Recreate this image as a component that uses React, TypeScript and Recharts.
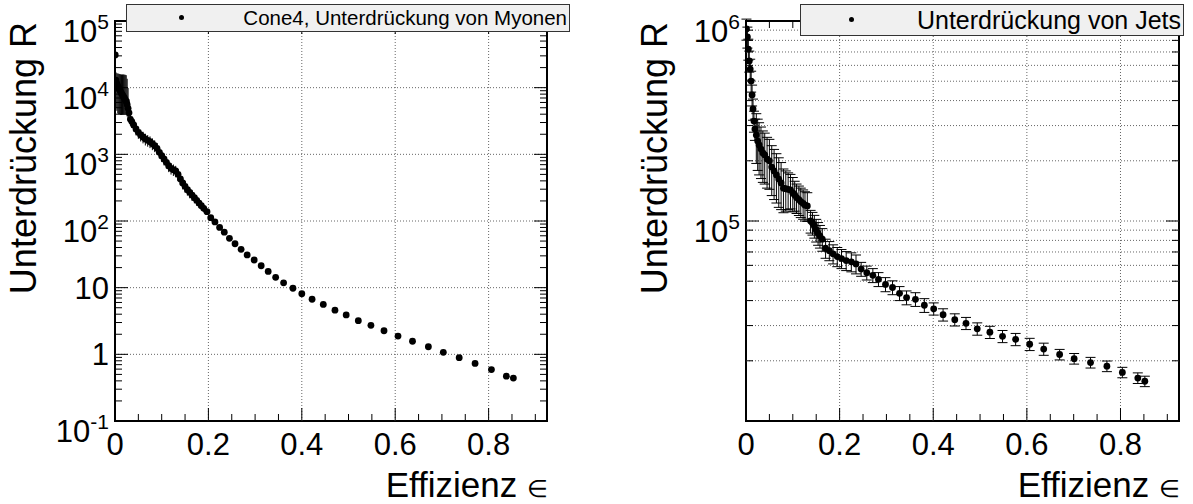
import React from "react"
import {
  ScatterChart, Scatter, XAxis, YAxis, ErrorBar,
  ReferenceLine, ReferenceArea,
} from "recharts"

const FONT = '"Liberation Sans", Arial, Helvetica, sans-serif'

// Cone4, Unterdrückung von Myonen
const muonEff = [
  0.0005, 0.002, 0.004, 0.006, 0.008, 0.010, 0.012, 0.014, 0.016, 0.018, 0.020, 0.022, 0.024, 0.026, 0.028, 0.030,
  0.033, 0.036, 0.040, 0.045, 0.050, 0.055, 0.060, 0.065, 0.070, 0.075, 0.080, 0.085, 0.090, 0.095, 0.100,
  0.105, 0.110, 0.115, 0.120, 0.125, 0.130, 0.135, 0.140, 0.145, 0.150, 0.155, 0.160, 0.165, 0.170, 0.175,
  0.180, 0.185, 0.190,
  0.197, 0.205, 0.214, 0.224, 0.234, 0.245, 0.257, 0.270, 0.283, 0.298, 0.313, 0.328, 0.344, 0.361, 0.381,
  0.400, 0.422, 0.446, 0.471, 0.495, 0.521, 0.548, 0.576, 0.606, 0.637, 0.671, 0.703, 0.737, 0.771, 0.806,
  0.838, 0.853,
]
const muonRej = [
  31000, 13000, 11500, 10500, 9800, 9200, 8700, 8200, 7800, 7400, 7000, 6600, 6200, 5600, 4900, 4200,
  3350, 3100, 2754, 2399, 2138, 1950, 1820, 1698, 1622, 1549, 1445, 1349, 1230, 1072, 955,
  851, 759, 676, 617, 589, 562, 501, 427, 372, 331, 295, 269, 245, 224, 204,
  186, 170, 155,
  138, 112, 97, 80, 68, 55, 45.6, 37.6, 31, 26, 21.3, 17.5, 14.3, 11.8, 9.8,
  8.1, 6.7, 5.6, 4.6, 3.9, 3.2, 2.72, 2.26, 1.88, 1.57, 1.3, 1.07, 0.89, 0.73, 0.59,
  0.47, 0.44,
]
const muonErrLo = [
  6000, 8000, 7000, 6400, 5800, 5200, 4800, 4300, 3900, 3500, 3100, 2700, 2300, 1900, 1500, 1000,
  670, 620, 550, 480, 430, 390, 360, 340, 320, 310, 290, 270, 250, 210, 190,
  170, 150, 135, 120, 115, 110, 100, 85, 75, 65, 55, 50, 45, 40, 35,
  30, 25, 20,
  4, 3.4, 2.9, 2.4, 2, 1.6, 1.3, 1.1, 0.9, 0.75, 0.6, 0.5, 0.4, 0.33, 0.28,
  0.23, 0.19, 0.16, 0.13, 0.11, 0.09, 0.08, 0.065, 0.055, 0.045, 0.038, 0.031, 0.026, 0.021, 0.017,
  0.014, 0.013,
]
const muonErrHi = [
  6000, 4000, 5000, 5800, 6400, 6800, 7200, 7600, 8000, 8400, 8700, 9000, 9200, 8000, 5000, 2500,
  670, 620, 550, 480, 430, 390, 360, 340, 320, 310, 290, 270, 250, 210, 190,
  170, 150, 135, 120, 115, 110, 100, 85, 75, 65, 55, 50, 45, 40, 35,
  30, 25, 20,
  4, 3.4, 2.9, 2.4, 2, 1.6, 1.3, 1.1, 0.9, 0.75, 0.6, 0.5, 0.4, 0.33, 0.28,
  0.23, 0.19, 0.16, 0.13, 0.11, 0.09, 0.08, 0.065, 0.055, 0.045, 0.038, 0.031, 0.026, 0.021, 0.017,
  0.014, 0.013,
]

// Unterdrückung von Jets
const jetEff = [
  0.001, 0.003, 0.005, 0.007, 0.009, 0.011, 0.013, 0.015, 0.017, 0.019,
  0.022, 0.025, 0.028, 0.032, 0.036, 0.040,
  0.045, 0.050, 0.055, 0.060, 0.065, 0.070, 0.075, 0.080, 0.085, 0.090, 0.095, 0.100,
  0.104, 0.108, 0.113, 0.117, 0.122, 0.126, 0.131,
  0.138, 0.142, 0.146, 0.150, 0.154, 0.158, 0.163,
  0.170, 0.178, 0.186, 0.195, 0.204, 0.214, 0.225, 0.235,
  0.246, 0.258, 0.271, 0.283, 0.298, 0.313, 0.328, 0.343, 0.362, 0.381,
  0.401, 0.421, 0.446, 0.470, 0.494, 0.521, 0.548, 0.576, 0.606, 0.636,
  0.670, 0.701, 0.736, 0.771, 0.804, 0.837, 0.852,
]
const jetRej = [
  912000, 832000, 724000, 631000, 575000, 501000, 427000, 363000, 316000, 288000,
  269000, 251000, 240000, 229000, 219000, 214000,
  204000, 200000, 186000, 178000, 170000, 162000, 155000, 146000, 145000, 144000, 143000, 138000,
  135000, 131000, 128000, 125000, 122500, 120000, 119000,
  100000, 97700, 94400, 90200, 86900, 84100, 81100,
  73100, 71100, 68500, 66400, 64900, 63400, 62500, 61000,
  57500, 55100, 53500, 51100, 48200, 46500, 43500, 41400, 40600, 37900,
  36400, 34000, 32100, 30800, 28900, 27800, 26500, 25600, 24200, 22900,
  21500, 20500, 19600, 18800, 17500, 16400, 15800,
]
const jetErr = [
  110000, 100000, 87000, 76000, 69000, 60000, 51000, 44000, 38000, 35000,
  75000, 72000, 70000, 66000, 63000, 61000,
  58000, 56000, 52000, 50000, 47000, 45000, 41000, 36000, 33000, 30000, 28000, 27000,
  23000, 22000, 21500, 21000, 20500, 20000, 19500,
  13000, 12700, 12300, 11700, 11300, 10900, 10500,
  8000, 7800, 7500, 7300, 7100, 6900, 6800, 6600,
  4600, 4400, 4300, 4100, 3900, 3700, 3500, 3300, 3200, 3000,
  2550, 2400, 2250, 2150, 2050, 1950, 1850, 1800, 1700, 1600,
  1300, 1250, 1200, 1150, 1050, 1000, 950,
]

const effTicks = [0, 0.05, 0.1, 0.15, 0.2, 0.25, 0.3, 0.35, 0.4, 0.45, 0.5, 0.55, 0.6, 0.65, 0.7, 0.75, 0.8, 0.85, 0.9]
const effLabels = [0, 0.2, 0.4, 0.6, 0.8]
const effGrid = [0.2, 0.4, 0.6, 0.8]
const EFF_MAX = 0.925

const muonDecades = [0.1, 1, 10, 100, 1000, 10000, 100000]
const jetDecades = [10000, 100000, 1000000]

function logTicks(decades: number[]) {
  const out: number[] = []
  decades.forEach((d, i) => {
    out.push(d)
    if (i < decades.length - 1) {
      for (let m = 2; m <= 9; m++) out.push(Number((m * d).toPrecision(6)))
    }
  })
  return out
}
const muonTicks = logTicks(muonDecades)
const jetTicks = logTicks(jetDecades)
const jetGrid = jetTicks.filter((v) => v > 10000 && v < 1000000)

const muonData = muonEff.map((x, i) => ({ x, y: muonRej[i], err: [muonErrLo[i], muonErrHi[i]] }))
const jetData = jetEff.map((x, i) => ({ x, y: jetRej[i], err: [jetErr[i], jetErr[i]] }))

const isMajor = (v: number, majors: number[]) => majors.some((m) => Math.abs(m - v) < 1e-9 * Math.max(1, m))

function EffTick(props: any) {
  const { x, y, payload, plotH } = props
  const v = payload.value
  const major = isMajor(v, effLabels)
  const len = major ? 13 : 7
  return (
    <g>
      <line x1={x} y1={y} x2={x} y2={y - len} stroke="#000" strokeWidth={1} />
      <line x1={x} y1={y - plotH} x2={x} y2={y - plotH + len} stroke="#000" strokeWidth={1} />
      {major && (
        <text x={x} y={y + 34} textAnchor="middle" fontSize={31} fontFamily={FONT} fill="#000">
          {String(v)}
        </text>
      )}
    </g>
  )
}

function RejTick(props: any) {
  const { x, y, payload, plotW, majors, labelled } = props
  const v = payload.value
  const major = isMajor(v, majors)
  const len = major ? 13 : 7
  const k = Math.round(Math.log10(v))
  let label: React.ReactNode = null
  if (major && labelled.includes(v)) {
    if (k === 0 || k === 1) {
      label = (
        <text x={x - 6} y={y + 11} textAnchor="end" fontSize={31} fontFamily={FONT} fill="#000">
          {k === 0 ? "1" : "10"}
        </text>
      )
    } else {
      label = (
        <text x={x - 6} y={y + 21} textAnchor="end" fontSize={31} fontFamily={FONT} fill="#000">
          10<tspan dy={-13} fontSize={21}>{String(k)}</tspan>
        </text>
      )
    }
  }
  return (
    <g>
      <line x1={x} y1={y} x2={x + len} y2={y} stroke="#000" strokeWidth={1} />
      <line x1={x + plotW} y1={y} x2={x + plotW - len} y2={y} stroke="#000" strokeWidth={1} />
      {label}
    </g>
  )
}

function YTitle(props: any) {
  const { viewBox, dx } = props
  const tx = viewBox.x + dx
  const ty = viewBox.y + 1
  return (
    <text x={tx} y={ty} transform={`rotate(-90, ${tx}, ${ty})`} textAnchor="end"
      fontSize={36} fontFamily={FONT} fill="#000">
      Unterdrückung R
    </text>
  )
}

function XTitle(props: any) {
  const { viewBox } = props
  return (
    <text x={viewBox.x + viewBox.width + 1} y={viewBox.y + 76} textAnchor="end"
      fontSize={35} fontFamily={FONT} fill="#000">
      Effizienz <tspan fontSize={24}>∈</tspan>
    </text>
  )
}

const Dot = (p: any) => <circle cx={p.cx} cy={p.cy} r={3.4} fill="#000" />

const gridStyle = { stroke: "#666", strokeWidth: 1, strokeDasharray: "1 2" }

function Legend({ left, top, width, height, dotX, text, fontSize }: any) {
  return (
    <div style={{
      position: "absolute", left, top, width, height, boxSizing: "border-box",
      background: "#f0f0f0", border: "1px solid #333", fontFamily: FONT,
    }}>
      <div style={{
        position: "absolute", left: dotX - 3, top: height / 2 - 4, width: 5, height: 5,
        borderRadius: "50%", background: "#000",
      }} />
      <div style={{
        position: "absolute", right: 2, top: 0, height: height - 2, lineHeight: `${height - 2}px`,
        fontSize, color: "#000", whiteSpace: "nowrap",
      }}>
        {text}
      </div>
    </div>
  )
}

export default function App() {
  return (
    <div style={{ position: "absolute", left: 0, top: 0, width: 1193, height: 504, background: "#fff", overflow: "hidden" }}>
      <div style={{ position: "absolute", left: 0, top: 0 }}>
        <ScatterChart width={596} height={504} margin={{ top: 21, right: 49, bottom: 0, left: 0 }}>
          <XAxis type="number" dataKey="x" domain={[0, EFF_MAX]} allowDataOverflow ticks={effTicks}
            interval={0} tickSize={0} tickMargin={0} axisLine={false} tickLine={false} height={83}
            tick={<EffTick plotH={400} />} label={<XTitle />} />
          <YAxis type="number" dataKey="y" scale="log" domain={[0.1, 100000]} allowDataOverflow
            ticks={muonTicks} interval={0} tickSize={0} tickMargin={0} axisLine={false} tickLine={false}
            width={115} tick={<RejTick plotW={432} majors={muonDecades} labelled={muonDecades} />}
            label={<YTitle dx={36} />} />
          {effGrid.map((v) => (
            <ReferenceLine key={`vx${v}`} x={v} {...gridStyle} />
          ))}
          {muonDecades.slice(1, -1).map((v) => (
            <ReferenceLine key={`hy${v}`} y={v} {...gridStyle} />
          ))}
          <ReferenceArea x1={0} x2={EFF_MAX} y1={0.1} y2={100000} fill="none" fillOpacity={0}
            stroke="#000" strokeWidth={2} ifOverflow="visible" />
          <Scatter data={muonData} shape={Dot} isAnimationActive={false}>
            <ErrorBar dataKey="err" direction="y" width={0} stroke="#000" strokeWidth={1} isAnimationActive={false} />
          </Scatter>
        </ScatterChart>
      </div>

      <div style={{ position: "absolute", left: 596, top: 0 }}>
        <ScatterChart width={597} height={504} margin={{ top: 21, right: 14, bottom: 0, left: 0 }}>
          <XAxis type="number" dataKey="x" domain={[0, EFF_MAX]} allowDataOverflow ticks={effTicks}
            interval={0} tickSize={0} tickMargin={0} axisLine={false} tickLine={false} height={83}
            tick={<EffTick plotH={400} />} label={<XTitle />} />
          <YAxis type="number" dataKey="y" scale="log" domain={[10000, 1000000]} allowDataOverflow
            ticks={jetTicks} interval={0} tickSize={0} tickMargin={0} axisLine={false} tickLine={false}
            width={150} tick={<RejTick plotW={433} majors={jetDecades} labelled={[100000, 1000000]} />}
            label={<YTitle dx={71} />} />
          {effGrid.map((v) => (
            <ReferenceLine key={`vx${v}`} x={v} {...gridStyle} />
          ))}
          {jetGrid.map((v) => (
            <ReferenceLine key={`hy${v}`} y={v} {...gridStyle} />
          ))}
          <ReferenceArea x1={0} x2={EFF_MAX} y1={10000} y2={1000000} fill="none" fillOpacity={0}
            stroke="#000" strokeWidth={2} ifOverflow="visible" />
          <Scatter data={jetData} shape={Dot} isAnimationActive={false}>
            <ErrorBar dataKey="err" direction="y" width={5} stroke="#000" strokeWidth={1} isAnimationActive={false} />
          </Scatter>
        </ScatterChart>
      </div>

      <Legend left={126} top={4} width={444} height={28} dotX={55} fontSize={20.5}
        text="Cone4, Unterdrückung von Myonen" />
      <Legend left={800} top={4} width={384} height={32} dotX={51} fontSize={25}
        text="Unterdrückung von Jets" />
    </div>
  )
}
